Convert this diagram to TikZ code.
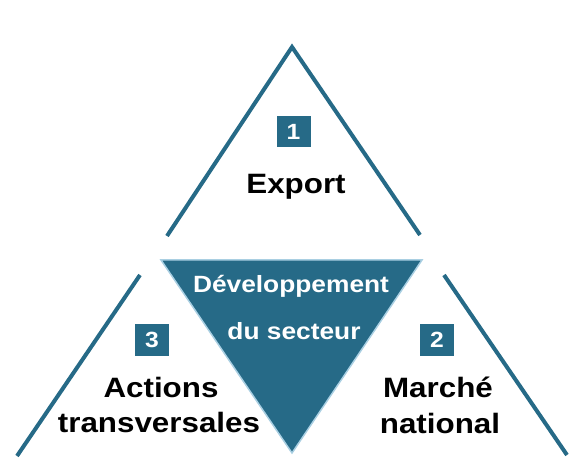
\documentclass[tikz,border=0pt]{standalone}
\usepackage{fontspec}
\setmainfont{Liberation Sans}[FakeStretch=1.12]
\definecolor{teal1}{HTML}{266A87}
\definecolor{edgeblue}{HTML}{A9CFE2}
\begin{document}
\begin{tikzpicture}[x=1pt,y=1pt,
  outline/.style={draw=teal1,line width=4pt},
  numbox/.style={fill=teal1,text=white,minimum width=34pt,minimum height=31pt,inner sep=0pt,font=\bfseries\fontsize{22}{24}\selectfont},
  lab/.style={anchor=base,inner sep=0pt,font=\bfseries\fontsize{28}{30}\selectfont},
  wlab/.style={anchor=base,inner sep=0pt,text=white,font=\bfseries\fontsize{23.5}{25}\selectfont}]
\useasboundingbox (0,0) rectangle (570,458);
% top triangle outline
\draw[outline] (167,222) -- (292,411) -- (420,223);
% left and right outlines
\draw[outline] (140,183) -- (17,2);
\draw[outline] (444,183) -- (567,3);
% center inverted triangle
\draw[fill=teal1,draw=edgeblue,line width=1.5pt,line join=miter] (161,198) -- (422,198) -- (292,5) -- cycle;
% labels
\node[numbox] (n1) at (293.5,326) {1};
\node[lab] (export) at (296,264) {Export};
\node[numbox] (n3) at (152,118) {3};
\node[lab] (act1) at (161,61) {Actions};
\node[lab] (act2) at (159,26) {transversales};
\node[numbox] (n2) at (437,118) {2};
\node[lab] (mar1) at (438,61) {Marché};
\node[lab] (mar2) at (440,25) {national};
\node[wlab] (dev1) at (291,165) {Développement};
\node[wlab] (dev2) at (294,118) {du secteur};
\end{tikzpicture}
\end{document}
